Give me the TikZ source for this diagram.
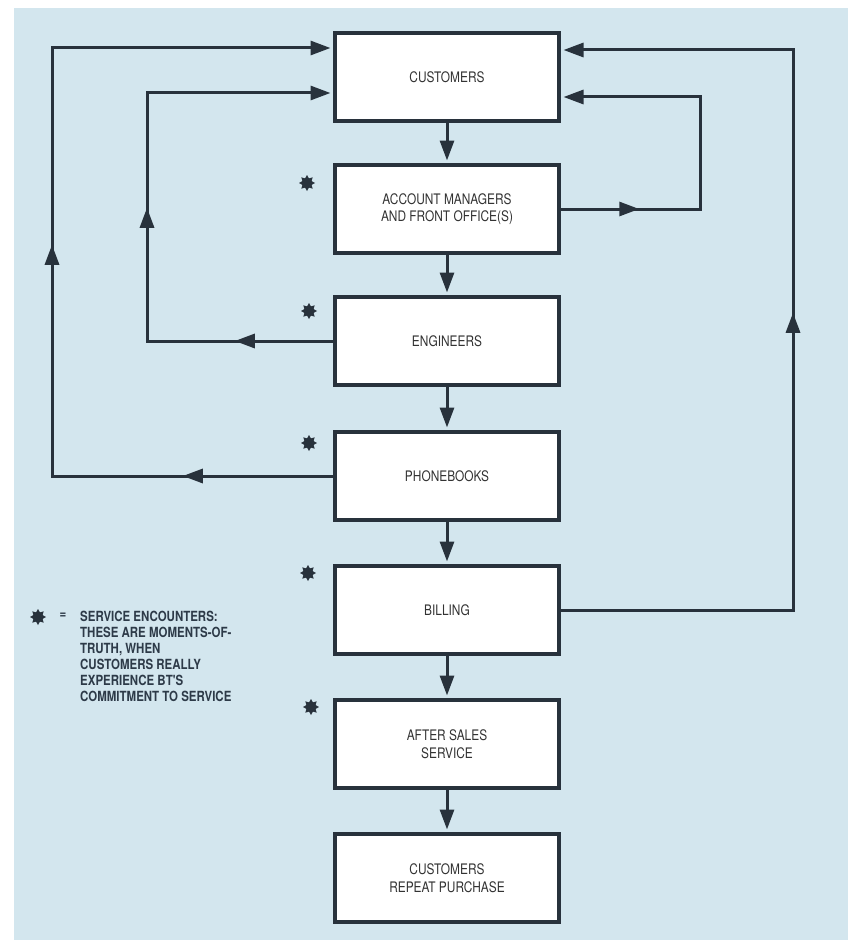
\documentclass[tikz,border=0pt]{standalone}
\usepackage{fontspec}
\usetikzlibrary{arrows.meta,shapes.geometric,decorations.markings}
\newfontfamily\condfont[FakeStretch=0.82]{TeX Gyre Heros}
\definecolor{bgblue}{HTML}{D3E6EE}
\definecolor{ink}{HTML}{28323C}
\definecolor{txt}{HTML}{333333}
\definecolor{legtxt}{HTML}{2D3A48}
\tikzset{
  box/.style={draw=ink, line width=4.5pt, fill=white, minimum width=224pt, minimum height=88pt,
    align=center, font=\condfont\fontsize{14.5}{17.5}\selectfont, text=txt, inner sep=0pt},
  conn/.style={draw=ink, color=ink, line width=3pt},
  endtip/.style={-{Triangle[length=20pt,width=14pt]}, shorten >=2.25pt},
  encounter/.style={star, star points=8, star point ratio=1.6, fill=ink, draw=none, minimum size=16pt, inner sep=0pt},
  legend/.style={font=\condfont\bfseries\fontsize{14}{16}\selectfont, text=legtxt, align=left, inner sep=0pt}
}
\begin{document}
\begin{tikzpicture}[x=1pt,y=-1pt]
\useasboundingbox (0,0) rectangle (848,947);
\fill[white] (0,0) rectangle (848,947);
\fill[bgblue] (14,8) rectangle (848,940);

\node[box] (cust) at (447,77) {CUSTOMERS};
\node[box] (acct) at (447,209) {ACCOUNT MANAGERS\\AND FRONT OFFICE(S)};
\node[box] (eng) at (447,341) {ENGINEERS};
\node[box] (phone) at (447,476) {PHONEBOOKS};
\node[box] (bill) at (447,610) {BILLING};
\node[box] (after) at (447,744) {AFTER SALES\\SERVICE};
\node[box] (rep) at (447,878) {CUSTOMERS\\REPEAT PURCHASE};

% vertical flow
\draw[conn,endtip] (cust.south) -- (acct.north);
\draw[conn,endtip] (acct.south) -- (eng.north);
\draw[conn,endtip] (eng.south) -- (phone.north);
\draw[conn,endtip] (phone.south) -- (bill.north);
\draw[conn,endtip] (bill.south) -- (after.north);
\draw[conn,endtip] (after.south) -- (rep.north);

% feedback coordinates
\coordinate (tL1) at ([yshift=29pt]cust.west);
\coordinate (tL2) at ([yshift=-16pt]cust.west);
\coordinate (tR1) at ([yshift=27pt]cust.east);
\coordinate (tR2) at ([yshift=-20pt]cust.east);
\coordinate (xL1) at (52,0);
\coordinate (xL2) at (147,0);
\coordinate (xR2) at (700,0);
\coordinate (xR1) at (793,0);

% outer left: phonebooks -> customers
\draw[conn,endtip,postaction=decorate,
  decoration={markings,
    mark=at position 150pt with {\arrow{Triangle[length=20pt,width=14pt]}},
    mark=at position 512pt with {\arrow{Triangle[length=20pt,width=14pt]}}}]
  (phone.west) -- (phone.west -| xL1) -- (xL1 |- tL1) -- (tL1);

% inner left: engineers -> customers
\draw[conn,endtip,postaction=decorate,
  decoration={markings,
    mark=at position 98pt with {\arrow{Triangle[length=20pt,width=14pt]}},
    mark=at position 319pt with {\arrow{Triangle[length=20pt,width=14pt]}}}]
  (eng.west) -- (eng.west -| xL2) -- (xL2 |- tL2) -- (tL2);

% inner right: account managers -> customers
\draw[conn,endtip,postaction=decorate,
  decoration={markings,
    mark=at position 78pt with {\arrow{Triangle[length=20pt,width=14pt]}}}]
  (acct.east) -- (acct.east -| xR2) -- (xR2 |- tR2) -- (tR2);

% outer right: billing -> customers
\draw[conn,endtip,postaction=decorate,
  decoration={markings,
    mark=at position 529pt with {\arrow{Triangle[length=20pt,width=14pt]}}}]
  (bill.east) -- (bill.east -| xR1) -- (xR1 |- tR1) -- (tR1);

% service encounter marks
\node[encounter] (s1) at (307,183) {};
\node[encounter] (s2) at (309,311) {};
\node[encounter] (s3) at (309,443) {};
\node[encounter] (s4) at (308,573) {};
\node[encounter] (s5) at (311,707) {};

% legend
\node[encounter] (ls) at (38,617) {};
\node[legend, anchor=center] (leq) at (63,616) {=};
\node[legend, anchor=north west] (ltext) at (80,611)
  {SERVICE ENCOUNTERS:\\THESE ARE MOMENTS-OF-\\TRUTH, WHEN\\CUSTOMERS REALLY\\EXPERIENCE BT'S\\COMMITMENT TO SERVICE};
\end{tikzpicture}
\end{document}
